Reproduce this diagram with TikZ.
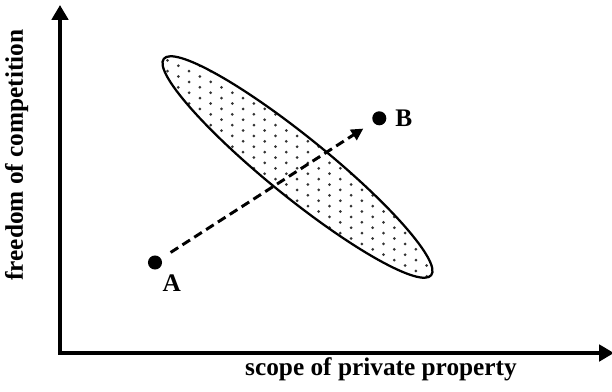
\documentclass[tikz,border=0pt]{standalone}
\usepackage{fontspec}
\setmainfont{Liberation Serif}
\usetikzlibrary{arrows.meta,positioning}

\begin{document}
\begin{tikzpicture}[x=0.025cm,y=0.025cm,every node/.style={font=\fontsize{18}{20}\selectfont\bfseries},axis/.style={line width=2.8pt,{Triangle[length=10.5pt,width=11.5pt]}-{Triangle[length=10.5pt,width=11.5pt]}},pt/.style={circle,fill=black,inner sep=0pt,minimum size=10pt},lbl/.style={inner sep=0pt},move/.style={line width=2.1pt,dash pattern=on 6.4pt off 3.6pt,-{Triangle[length=8.5pt,width=8.5pt]},shorten <=8pt,shorten >=8.3pt},region/.style={rotate around={-39:(E)}}]
\useasboundingbox (0,0) rectangle (612,391);
\coordinate (O) at (60,38);
\coordinate (ytip) at (60,386);
\coordinate (xtip) at (614,38);
\coordinate (E) at (297.5,224);
% dotted region
\begin{scope}
\clip[region] (E) ellipse [x radius=171, y radius=29];
\foreach \i in {0,...,26}
  \foreach \j in {0,...,24}
    \fill[black!80] ({156.7+10.8*\i},{346.9-10.8*\j-5.4*mod(\i,2)}) circle (1.5);
\end{scope}
\draw[region,line width=1.6pt] (E) ellipse [x radius=172, y radius=30];
% axes
\draw[axis] (ytip) -- (O) -- (xtip);
\node[anchor=base] (xlabel) at (381,16) {scope of private property};
\node[anchor=base,rotate=90] (ylabel) at (23,236) {freedom of competition};
% points
\node[pt] (A) at (155,128.5) {};
\node[pt] (B) at (379.3,272.7) {};
\node[lbl,below right=5pt and 1.5pt of A] (Alabel) {A};
\node[lbl,right=6pt of B] (Blabel) {B};
\draw[move] (A) -- (B);
\end{tikzpicture}
\end{document}
